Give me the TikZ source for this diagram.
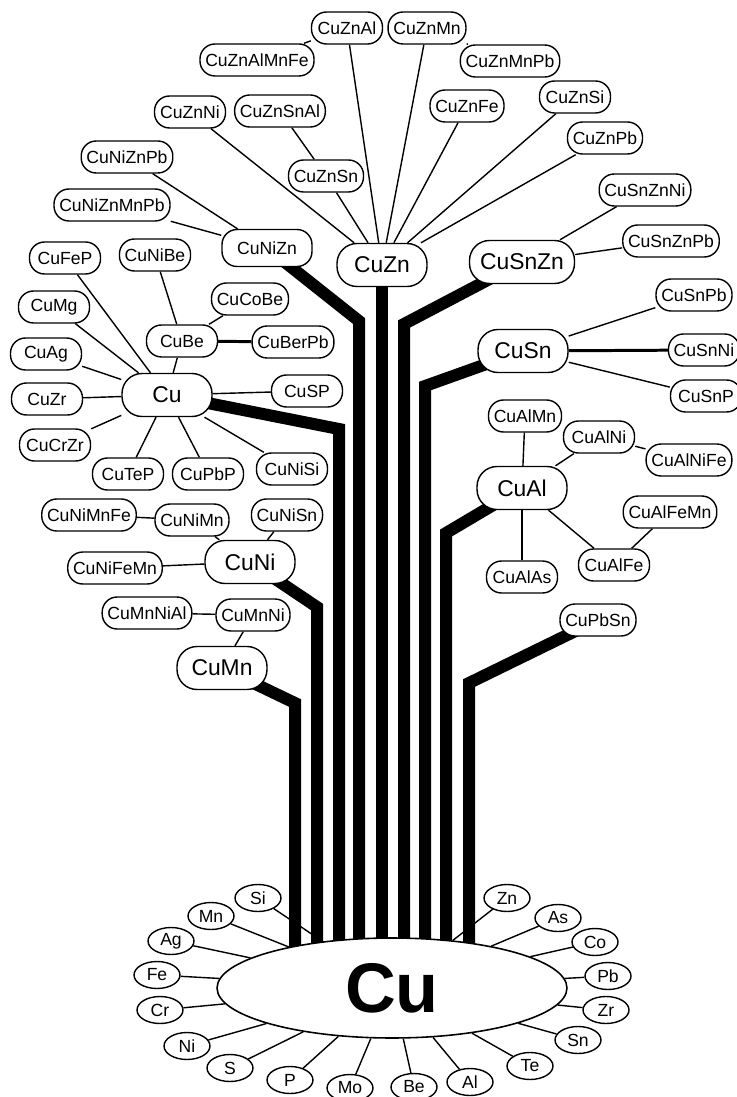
\documentclass[tikz,border=0pt]{standalone}
\usepackage{fontspec}
\setmainfont{Liberation Sans}
\usetikzlibrary{shapes.geometric, backgrounds}

\tikzset{
  alloy/.style={draw, line width=0.8pt, fill=white, rounded corners=0.3cm,
    minimum width=1.42cm, minimum height=0.64cm, inner xsep=3pt, inner ysep=1pt,
    font=\fontsize{10}{10}\selectfont},
  family/.style={alloy, rounded corners=0.4cm, minimum width=1.8cm,
    minimum height=0.86cm, font=\fontsize{13}{13}\selectfont},
  element/.style={draw, ellipse, line width=0.8pt, fill=white, minimum width=0.92cm,
    minimum height=0.54cm, inner sep=0pt, font=\fontsize{10}{10}\selectfont},
  base/.style={draw, ellipse, line width=0.9pt, fill=white, minimum width=7cm,
    minimum height=2cm, inner sep=0pt, font=\fontsize{40}{40}\selectfont\bfseries},
  twig/.style={line width=0.8pt},
  boldtwig/.style={line width=1.7pt},
  stem/.style={line width=0.24cm, line join=miter}
}

\begin{document}
\begin{tikzpicture}[x=0.02cm, y=-0.02cm]
\useasboundingbox (0,0) rectangle (736,1097);
% --- Main families ---
\node[family] (CuZn) at (382,265) {CuZn};
\node[family, minimum width=2.1cm] (CuSnZn) at (522,262) {CuSnZn};
\node[family] (CuSn) at (523,351) {CuSn};
\node[family] (CuAl) at (522,488) {CuAl};
\node[family] (Cu) at (167,395) {Cu};
\node[family] (CuNi) at (250,562) {CuNi};
\node[family] (CuMn) at (222,668) {CuMn};
\node[alloy, minimum width=1.8cm, minimum height=0.74cm] (CuNiZn) at (267,248) {CuNiZn};
% --- Alloys ---
\foreach \n/\x/\y in {CuZnAl/347/28, CuZnMn/427/28, CuZnAlMnFe/257/60, CuZnMnPb/510/61,
    CuZnNi/190/112, CuZnSnAl/280/111, CuZnFe/467/106, CuZnSi/575/97, CuZnPb/605/138,
    CuZnSn/326/176, CuNiZnPb/127/157, CuNiZnMnPb/112/205,
    CuFeP/65/258, CuNiBe/155/255, CuCoBe/250/299, CuMg/54/307, CuBe/182/341,
    CuBerPb/293/342, CuAg/46/354, CuSP/307/391, CuZr/47/399, CuCrZr/55/445,
    CuTeP/128/474, CuPbP/208/474, CuNiSi/292/469, CuNiMnFe/89/515, CuNiMn/192/520,
    CuNiSn/287/515, CuNiFeMn/115/568, CuMnNiAl/147/613, CuMnNi/253/615,
    CuSnZnNi/645/190, CuSnZnPb/671/241, CuSnPb/694/295, CuSnNi/704/350, CuSnP/706/396,
    CuAlMn/525/416, CuAlNi/599/437, CuAlNiFe/689/460, CuAlFeMn/670/512,
    CuAlFe/614/565, CuAlAs/522/577, CuPbSn/598/620}
  \node[alloy] (\n) at (\x,\y) {\n};
% --- Base metal and additions ---
\node[base] (bigCu) at (392,988) {Cu};
\foreach \n/\x/\y in {Si/258/898, Mn/211/916, Ag/171/941, Fe/157/975, Cr/160/1010,
    Ni/187/1046, S/230/1068, P/290/1080, Mo/350/1088, Be/414/1087, Al/470/1082,
    Te/530/1066, Sn/578/1040, Zr/606/1010, Pb/608/976, Co/595/942, As/558/918, Zn/507/898}
{
  \node[element] (\n) at (\x,\y) {\n};
  \draw[twig] (\n) -- (bigCu);
}
% --- Branches ---
\foreach \a/\b in {CuZn/CuZnAl, CuZn/CuZnMn, CuZn/CuZnNi, CuZn/CuZnSn, CuZn/CuZnFe,
    CuZn/CuZnSi, CuZn/CuZnPb, CuZnAl/CuZnAlMnFe, CuZnMn/CuZnMnPb, CuZnSn/CuZnSnAl,
    CuNiZn/CuNiZnPb, CuNiZn/CuNiZnMnPb, CuSnZn/CuSnZnNi, CuSnZn/CuSnZnPb,
    CuSn/CuSnPb, CuSn/CuSnP, Cu/CuFeP, Cu/CuMg, Cu/CuAg, Cu/CuZr, Cu/CuCrZr, Cu/CuTeP,
    Cu/CuPbP, Cu/CuNiSi, Cu/CuSP, Cu/CuBe, CuBe/CuNiBe, CuBe/CuCoBe,
    CuNi/CuNiMn, CuNi/CuNiSn, CuNi/CuNiFeMn, CuNiMn/CuNiMnFe, CuMn/CuMnNi,
    CuMnNi/CuMnNiAl, CuAl/CuAlMn, CuAl/CuAlNi, CuAl/CuAlAs, CuAl/CuAlFe,
    CuAlNi/CuAlNiFe, CuAlFe/CuAlFeMn}
  \draw[twig] (\a) -- (\b);
\draw[boldtwig] (CuSn) -- (CuSnNi);
\draw[boldtwig] (CuBe) -- (CuBerPb);
% --- Trunk lines to the base ---
\begin{scope}[on background layer]
\foreach \n/\bx/\by in {CuMn/295/703, CuNi/317/607, Cu/339/429, CuNiZn/359/321,
    CuZn/382/300, CuSnZn/404/324, CuSn/425/386, CuAl/446/533, CuPbSn/469/683}
  \draw[stem] (\n.center) -- (\bx,\by) -- (\bx,990);
\end{scope}
\end{tikzpicture}
\end{document}
